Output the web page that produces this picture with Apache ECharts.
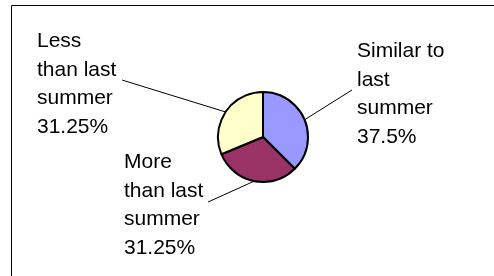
<!DOCTYPE html>
<html>
<head>
<meta charset="utf-8">
<script src="https://cdn.jsdelivr.net/npm/echarts@6/dist/echarts.min.js"></script>
<style>
  html, body { margin: 0; padding: 0; background: #fff; }
  #chart { width: 494px; height: 276px; }
</style>
</head>
<body>
<div id="chart"></div>
<script>
// pie data, clockwise from 12 o'clock
var categories = ['Similar to last summer', 'More than last summer', 'Less than last summer'];
var labelText = ['Similar to\nlast\nsummer', 'More\nthan last\nsummer', 'Less\nthan last\nsummer'];
var shares = [37.5, 31.25, 31.25];
var sliceColors = ['#9999FF', '#993366', '#FFFFCC'];

// where each label block sits (left, top) and where its leader line meets it
var labelSpots = [
    { x: 357, y: 37, end: [352, 90] },
    { x: 124, y: 148, end: [208, 202] },
    { x: 37, y: 27, end: [122, 80] }
];

var chart = echarts.init(document.getElementById('chart'));

var pieData = categories.map(function(name, i) {
    return {
        name: name,
        value: shares[i],
        itemStyle: { color: sliceColors[i] },
        label: { formatter: labelText[i] + '\n{c}%' }
    };
});

chart.setOption({
    animation: false,
    backgroundColor: '#fff',
    graphic: [{
        type: 'rect',
        shape: { x: 11.5, y: 5.5, width: 520, height: 320 },
        style: { fill: 'none', stroke: '#000', lineWidth: 1 },
        silent: true
    }],
    series: [{
        type: 'pie',
        center: [263, 137],
        radius: 45,
        startAngle: 90,
        clockwise: true,
        data: pieData,
        itemStyle: { borderColor: '#000', borderWidth: 2 },
        label: {
            show: true,
            position: 'outside',
            color: '#000',
            fontFamily: 'Liberation Sans, Arial, sans-serif',
            fontSize: 21,
            lineHeight: 28.5,
            align: 'left'
        },
        labelLine: {
            show: true,
            length: 10,
            length2: 0,
            lineStyle: { color: '#000', width: 1 }
        },
        labelLayout: function(params) {
            var spot = labelSpots[params.dataIndex];
            var start = params.labelLinePoints ? params.labelLinePoints[0] : spot.end;
            return {
                x: spot.x,
                y: spot.y,
                align: 'left',
                verticalAlign: 'top',
                labelLinePoints: [start, spot.end, spot.end]
            };
        }
    }]
});
</script>
</body>
</html>
